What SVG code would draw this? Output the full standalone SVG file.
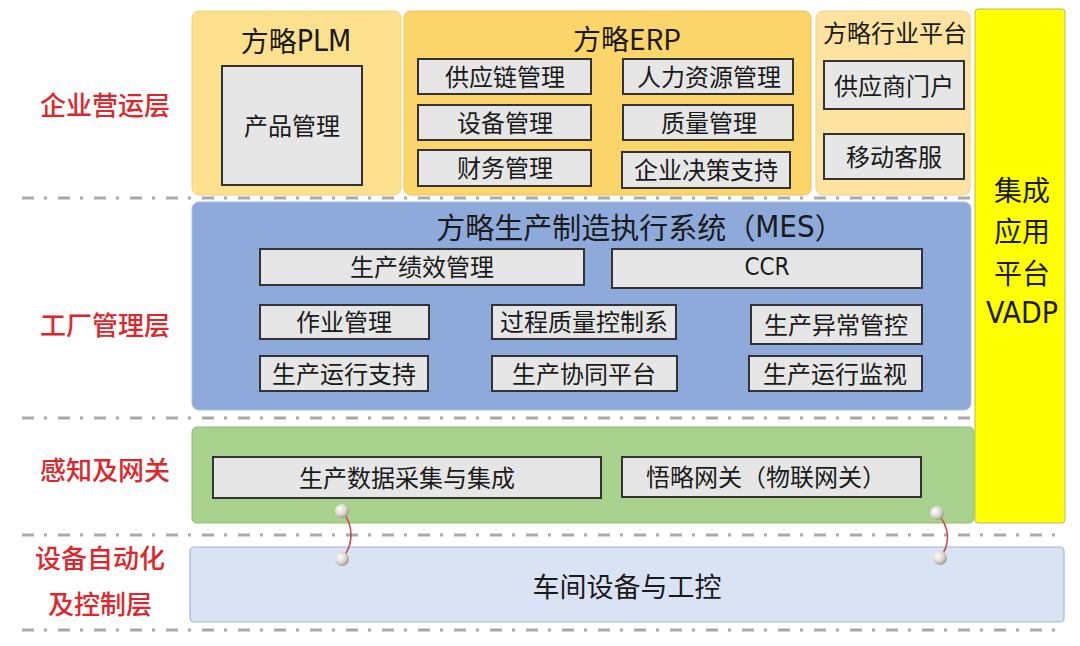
<svg xmlns="http://www.w3.org/2000/svg" width="1080" height="646" viewBox="0 0 1080 646">
<defs>
<style>
.t{font-family:"Noto Sans CJK SC","Noto Sans",sans-serif;fill:#1a1a1a;text-anchor:middle;dominant-baseline:central}
.lat{font-family:"Liberation Sans Narrow","DejaVu Sans Condensed","DejaVu Sans",sans-serif;font-stretch:condensed}
.red{font-family:"Noto Sans CJK SC",sans-serif;fill:#e0262b;font-size:26px;font-weight:500;text-anchor:middle;dominant-baseline:central}
.box{fill:#e6e6e6;stroke:#333;stroke-width:2}
.sep{stroke:#aaa;stroke-width:3;stroke-dasharray:12 10 3 11;fill:none}
.link{fill:none;stroke:#c0504d;stroke-width:1.6}
</style>
<radialGradient id="ball" cx="0.35" cy="0.35" r="0.7">
<stop offset="0" stop-color="#ffffff"/>
<stop offset="0.6" stop-color="#d8d6cc"/>
<stop offset="1" stop-color="#9a978c"/>
</radialGradient>
</defs>
<rect width="1080" height="646" fill="#ffffff"/>
<g id="separators">
<line class="sep" x1="22" y1="198" x2="975" y2="198"/>
<line class="sep" x1="22" y1="418" x2="975" y2="418"/>
<line class="sep" x1="22" y1="535" x2="1063" y2="535"/>
<line class="sep" x1="22" y1="630" x2="1063" y2="630"/>
</g>
<g id="layer-labels">
<text class="red" x="105" y="103">企业营运层</text>
<text class="red" x="105" y="323">工厂管理层</text>
<text class="red" x="105" y="468">感知及网关</text>
<text class="red" x="100" y="556">设备自动化</text>
<text class="red" x="100" y="602">及控制层</text>
</g>
<g id="plm">
<rect x="192" y="11" width="209" height="184" rx="7" fill="#fde08e" stroke="#f3d27a" stroke-width="1"/>
<text class="t" x="296" y="40" font-size="28">方略<tspan class="lat" font-size="30">PLM</tspan></text>
<rect class="box" x="222" y="66" width="140" height="119"/>
<text class="t" x="292" y="124" font-size="24">产品管理</text>
</g>
<g id="erp">
<rect x="404" y="11" width="407" height="184" rx="7" fill="#fcd56a" stroke="#e8c25a" stroke-width="1"/>
<text class="t" x="627" y="38" font-size="28">方略ERP</text>
<rect class="box" x="418" y="59" width="173" height="35"/>
<text class="t" x="505" y="75" font-size="24">供应链管理</text>
<rect class="box" x="623" y="59" width="170" height="35"/>
<text class="t" x="709" y="75" font-size="24">人力资源管理</text>
<rect class="box" x="418" y="105" width="173" height="35"/>
<text class="t" x="505" y="121" font-size="24">设备管理</text>
<rect class="box" x="623" y="105" width="170" height="35"/>
<text class="t" x="709" y="121" font-size="24">质量管理</text>
<rect class="box" x="418" y="150" width="173" height="36"/>
<text class="t" x="505" y="166" font-size="24">财务管理</text>
<rect class="box" x="622" y="152" width="168" height="36"/>
<text class="t" x="706" y="168" font-size="24">企业决策支持</text>
</g>
<g id="industry">
<rect x="816" y="11" width="154" height="184" rx="7" fill="#fde2a0" stroke="#f0d28a" stroke-width="1"/>
<text class="t" x="895" y="31" font-size="24">方略行业平台</text>
<rect class="box" x="824" y="61" width="140" height="48"/>
<text class="t" x="894" y="84" font-size="24">供应商门户</text>
<rect class="box" x="824" y="134" width="140" height="45"/>
<text class="t" x="894" y="155" font-size="24">移动客服</text>
</g>
<g id="vadp">
<rect x="975" y="9" width="90" height="514" rx="3" fill="#ffff00" stroke="#b8b870" stroke-width="1"/>
<text class="t" x="1022" y="189" font-size="28">集成</text>
<text class="t" x="1022" y="230" font-size="28">应用</text>
<text class="t" x="1022" y="272" font-size="28">平台</text>
<text class="t lat" x="1022" y="312" font-size="30">VADP</text>
</g>
<g id="mes">
<rect x="192" y="202" width="779" height="208" rx="7" fill="#8eaadb" stroke="#a8bde0" stroke-width="1"/>
<text class="t" x="640" y="226" font-size="29">方略生产制造执行系统（<tspan class="lat" font-size="31">MES</tspan>）</text>
<rect class="box" x="260" y="249" width="324" height="36"/>
<text class="t" x="422" y="265" font-size="24">生产绩效管理</text>
<rect class="box" x="612" y="249" width="310" height="39"/>
<text class="t lat" x="767" y="267" font-size="24">CCR</text>
<rect class="box" x="260" y="305" width="169" height="34"/>
<text class="t" x="344" y="320" font-size="24">作业管理</text>
<rect class="box" x="492" y="305" width="184" height="34"/>
<text class="t" x="584" y="320" font-size="24">过程质量控制系</text>
<rect class="box" x="751" y="305" width="171" height="39"/>
<text class="t" x="836" y="323" font-size="24">生产异常管控</text>
<rect class="box" x="260" y="356" width="168" height="35"/>
<text class="t" x="344" y="372" font-size="24">生产运行支持</text>
<rect class="box" x="492" y="356" width="185" height="35"/>
<text class="t" x="584" y="372" font-size="24">生产协同平台</text>
<rect class="box" x="749" y="356" width="173" height="35"/>
<text class="t" x="835" y="372" font-size="24">生产运行监视</text>
</g>
<g id="gateway">
<rect x="192" y="427" width="782" height="96" rx="5" fill="#a9d18e" stroke="#8fbf72" stroke-width="1"/>
<rect class="box" x="213" y="457" width="388" height="41"/>
<text class="t" x="407" y="476" font-size="24">生产数据采集与集成</text>
<rect class="box" x="622" y="457" width="299" height="40"/>
<text class="t" x="766" y="475" font-size="24">悟略网关（物联网关）</text>
</g>
<g id="workshop">
<rect x="190" y="547" width="874" height="75" rx="4" fill="#dae3f3" stroke="#9fb6d8" stroke-width="1.2"/>
<text class="t" x="627" y="585" font-size="27">车间设备与工控</text>
</g>
<g id="connectors">
<path class="link" d="M342,511 C354,525 354,545 342,559"/>
<path class="link" d="M937,513 C951,528 950,545 940,558"/>
<circle cx="342" cy="511" r="7" fill="url(#ball)"/>
<circle cx="342" cy="559" r="7" fill="url(#ball)"/>
<circle cx="937" cy="513" r="7" fill="url(#ball)"/>
<circle cx="940" cy="558" r="7" fill="url(#ball)"/>
</g>
</svg>
